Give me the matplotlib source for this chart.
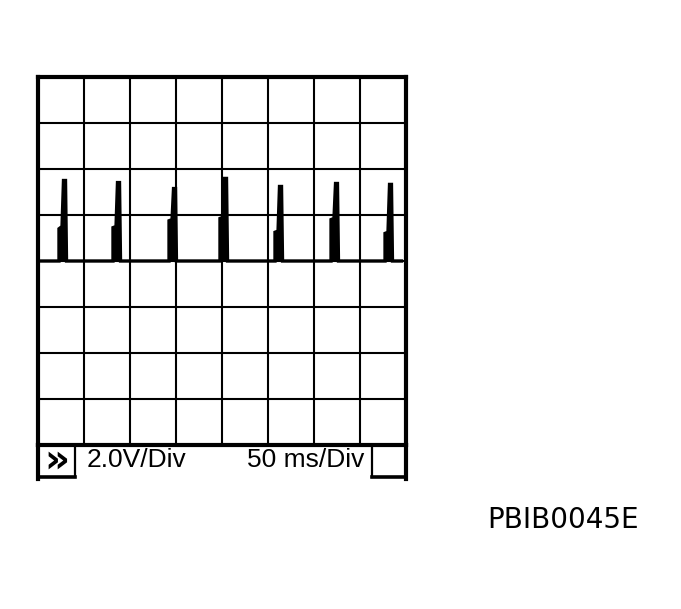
import matplotlib
matplotlib.use('Agg')
import matplotlib.pyplot as plt

# Scope settings (2.0 V/div, 50 ms/div, 8 x 8 divisions)
volts_per_div = 2.0
ms_per_div = 50
n_div = 8

# Trace: time (ms) and voltage (V), baseline at 0 V
trace_ms = [1,
            22.8, 22.8, 26.1, 27.7, 29.9, 31.0,
            81.5, 81.5, 84.8, 86.4, 88.6, 89.7,
            142.4, 142.4, 145.7, 147.3, 149.5, 150.5,
            197.8, 197.8, 201.1, 202.7, 204.9, 206.0,
            257.6, 257.6, 260.9, 262.5, 264.7, 265.8,
            318.5, 318.5, 321.7, 323.4, 325.5, 326.6,
            377.2, 377.2, 380.4, 382.1, 384.2, 385.3,
            395]
trace_v = [0,
           0, 1.40, 1.50, 3.50, 3.50, 0,
           0, 1.45, 1.50, 3.41, 3.41, 0,
           0, 1.75, 1.80, 3.15, 3.15, 0,
           0, 1.85, 1.90, 3.59, 3.59, 0,
           0, 1.25, 1.30, 3.24, 3.24, 0,
           0, 1.80, 1.85, 3.37, 3.37, 0,
           0, 1.20, 1.25, 3.33, 3.33, 0,
           0]

volt_label = '2.0V/Div'
time_label = '50 ms/Div'
figure_code = 'PBIB0045E'

W, H = 681, 609
fig = plt.figure(figsize=(W / 100, H / 100), dpi=100)

# screen area in pixels: x 38..406, y 77..445, label strip down to 479
left, right, top, grid_bottom, strip_bottom = 38, 406, 77, 445, 479
ax = fig.add_axes([left / W, (H - grid_bottom) / H, (right - left) / W, (grid_bottom - top) / H])
ax_strip = fig.add_axes([left / W, (H - strip_bottom) / H, (right - left) / W, (strip_bottom - grid_bottom) / H])

x_max = ms_per_div * n_div
y_max = volts_per_div * n_div / 2
ax.set_xlim(0, x_max)
ax.set_ylim(-y_max, y_max)
ax.set_xticks([ms_per_div * i for i in range(1, n_div)])
ax.set_yticks([-y_max + volts_per_div * i for i in range(1, n_div)])
ax.grid(True, color='black', linewidth=1.5)
ax.tick_params(left=False, bottom=False, labelleft=False, labelbottom=False)
for side in ['top', 'left', 'bottom', 'right']:
    ax.spines[side].set_linewidth(3)

# spikes look solid on the scope print, so fill under the trace too
ax.fill_between(trace_ms, trace_v, 0, color='black', linewidth=0)
ax.plot(trace_ms, trace_v, color='black', linewidth=2.4, solid_joinstyle='miter')

# label strip under the screen
ax_strip.set_xlim(0, x_max)
ax_strip.set_ylim(0, 1)
ax_strip.set_xticks([])
ax_strip.set_yticks([])
ax_strip.spines['top'].set_visible(False)
ax_strip.spines['bottom'].set_visible(False)
ax_strip.spines['left'].set_linewidth(3)
ax_strip.spines['right'].set_linewidth(3)
ax_strip.patch.set_alpha(0)

px_ms = ms_per_div / 46.0
box_l = (75 - left) * px_ms
box_r = (372 - left) * px_ms
ax_strip.plot([box_l, box_l], [0.06, 1], color='black', linewidth=1.6)
ax_strip.plot([0, box_l], [0.06, 0.06], color='black', linewidth=2.6)
ax_strip.plot([box_r, box_r], [0.06, 1], color='black', linewidth=1.6)
ax_strip.plot([box_r, x_max], [0.06, 0.06], color='black', linewidth=2.6)

ax_strip.text(box_l / 2, 0.55, '»', ha='center', va='center', fontsize=28,
              fontweight='bold', family='DejaVu Sans')
ax_strip.text((87 - left) * px_ms, 0.35, volt_label, ha='left', va='baseline',
              fontsize=19, family='Liberation Sans')
ax_strip.text((364 - left) * px_ms, 0.35, time_label, ha='right', va='baseline',
              fontsize=19, family='Liberation Sans')

fig.text(487 / W, (H - 528) / H, figure_code, ha='left', va='baseline',
         fontsize=20, family='DejaVu Sans')

fig.savefig('out.png', dpi=100)
